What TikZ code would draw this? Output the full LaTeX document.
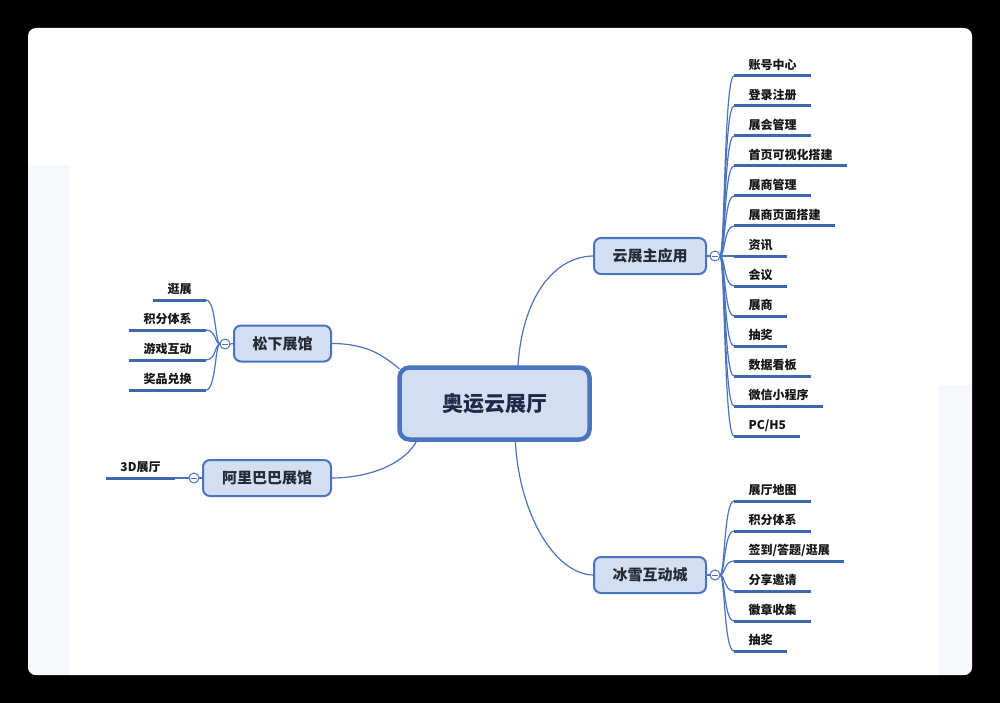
\documentclass[tikz,border=0pt]{standalone}
\usepackage{fontspec}
\setmainfont{Noto Sans CJK SC}
\definecolor{bl}{HTML}{4A74BE}
\definecolor{ul}{HTML}{3D67B1}
\definecolor{fillb}{HTML}{D3DEF0}
\definecolor{ctxt}{HTML}{1E2A48}
\definecolor{stxt}{HTML}{252A36}
\definecolor{ltxt}{HTML}{151515}
\definecolor{faint}{HTML}{F6F8FB}
\pgfdeclarelayer{bg}
\pgfdeclarelayer{back}
\pgfsetlayers{bg,back,main}
\tikzset{
  centerbox/.style={draw=bl, line width=4.5pt, fill=fillb, rounded corners=10pt,
    minimum width=190pt, minimum height=72pt, inner sep=0pt, outer sep=0pt,
    font=\fontsize{21}{21}\selectfont\bfseries, text=ctxt},
  subbox/.style={draw=bl, line width=2pt, fill=fillb, rounded corners=7pt,
    minimum height=36pt, inner sep=0pt, outer sep=0pt,
    font=\fontsize{15}{15}\selectfont\bfseries, text=stxt},
  leafR/.style={anchor=south west, inner xsep=14.5pt, inner ysep=5pt, outer sep=0pt,
    text height=9pt, text depth=1.5pt, font=\fontsize{12}{12}\selectfont\bfseries, text=ltxt},
  leafL/.style={leafR, anchor=south east},
  uline/.style={draw=ul, line width=3pt},
  conn/.style={draw=bl, line width=1.2pt},
  fold/.style={circle, draw=bl, line width=1pt, fill=white, minimum size=10pt,
    inner sep=0pt, outer sep=0pt,
    path picture={\draw[bl, line width=0.9pt]
      ([xshift=-2.6pt]path picture bounding box.center) --
      ([xshift=2.6pt]path picture bounding box.center);}}
}
\begin{document}
\begin{tikzpicture}[x=1pt,y=-1pt]
\useasboundingbox (0,0) rectangle (1000,703);
\begin{pgfonlayer}{bg}
\fill[black] (0,0) rectangle (1000,703);
\fill[white, rounded corners=8pt] (28,28) rectangle (972,675);
\begin{scope}
\clip[rounded corners=8pt] (28,28) rectangle (972,675);
\fill[faint] (28,165) rectangle (70,675);
\fill[faint] (938,385) rectangle (972,675);
\end{scope}
\end{pgfonlayer}

% main nodes
\node[centerbox] (ct) at (494.5,403.5) {奥运云展厅};
\node[subbox, minimum width=112pt] (yz) at (650,256) {云展主应用};
\node[subbox, minimum width=112pt] (bx) at (650,575) {冰雪互动城};
\node[subbox, minimum width=97pt] (sx) at (282.5,343.5) {松下展馆};
\node[subbox, minimum width=128pt] (al) at (267,478) {阿里巴巴展馆};

% fold markers
\node[fold] (c1) at (715,256) {};
\node[fold] (c2) at (715,575) {};
\node[fold] (c3) at (225,344) {};
\node[fold] (c4) at (194,478) {};

\begin{pgfonlayer}{back}
\draw[conn] (ct.57) .. controls +(4,-70) and +(-40,0) .. (yz.west);
\draw[conn] (ct.300) .. controls +(3,72) and +(-40,0) .. (bx.west);
\draw[conn] (sx.east) .. controls +(38,0) and +(-15,-12) .. (ct.160);
\draw[conn] (al.east) .. controls +(42,0) and +(-10,22) .. (ct.205);
\draw[conn] (yz.east) -- (c1.west);
\draw[conn] (bx.east) -- (c2.west);
\draw[conn] (sx.west) -- (c3.east);
\draw[conn] (al.west) -- (c4.east);
\end{pgfonlayer}

% right top leaves
\foreach \t [count=\i] in {账号中心,登录注册,展会管理,首页可视化搭建,展商管理,展商页面搭建,资讯,会议,展商,抽奖,数据看板,微信小程序,PC/H5}{
  \node[leafR] (r\i) at (734,{46+30*\i}) {\t};
  \draw[uline] (r\i.south west) -- (r\i.south east);
  \begin{pgfonlayer}{back}
  \draw[conn] (c1.east) .. controls +(5,0) and +(-10,0) .. (r\i.south west);
  \end{pgfonlayer}
}
% right bottom leaves
\foreach \t [count=\i] in {展厅地图,积分体系,签到/答题/逛展,分享邀请,徽章收集,抽奖}{
  \node[leafR] (b\i) at (734,{471+30*\i}) {\t};
  \draw[uline] (b\i.south west) -- (b\i.south east);
  \begin{pgfonlayer}{back}
  \draw[conn] (c2.east) .. controls +(5,0) and +(-10,0) .. (b\i.south west);
  \end{pgfonlayer}
}
% left leaves
\foreach \t [count=\i] in {逛展,积分体系,游戏互动,奖品兑换}{
  \node[leafL] (l\i) at (206,{270+30*\i}) {\t};
  \draw[uline] (l\i.south west) -- (l\i.south east);
  \begin{pgfonlayer}{back}
  \draw[conn] (c3.west) .. controls +(-5,0) and +(10,0) .. (l\i.south east);
  \end{pgfonlayer}
}
\node[leafL] (a1) at (175,478) {3D展厅};
\draw[uline] (a1.south west) -- (a1.south east);
\begin{pgfonlayer}{back}
\draw[conn] (c4.west) -- (a1.south east);
\end{pgfonlayer}
\end{tikzpicture}
\end{document}
